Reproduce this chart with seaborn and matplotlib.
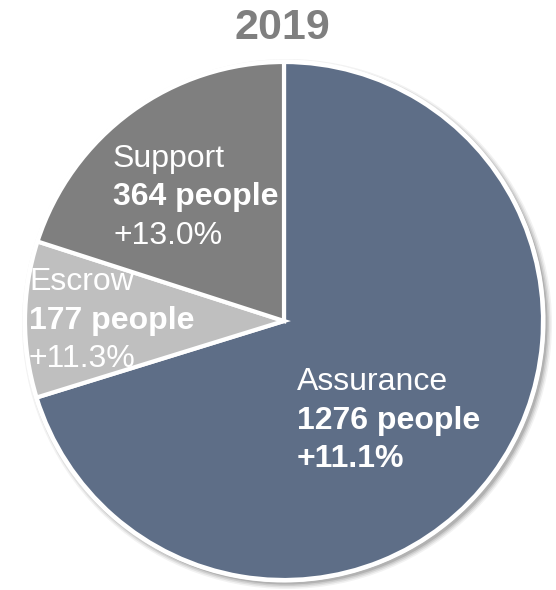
import matplotlib
matplotlib.use("Agg")
import matplotlib.pyplot as plt
from matplotlib.patches import Circle
import seaborn as sns

categories = ["Assurance", "Escrow", "Support"]
people = [1276, 177, 364]
growth = ["+11.1%", "+11.3%", "+13.0%"]
colors = ["#5E6E87", "#BFBFBF", "#7F7F7F"]
title = "2019"

sns.set_theme(style="white")
plt.rcParams['font.family'] = ['Liberation Sans', 'DejaVu Sans']

W, H = 556, 590
fig = plt.figure(figsize=(W / 100, H / 100), dpi=100)
fig.patch.set_facecolor("white")

# pie bounding box in pixels
cx, cy, r = 284, 321, 272
ax = fig.add_axes([(cx - r) / W, 1 - (cy + r) / H, 2 * r / W, 2 * r / H])
scale = 259 / 272  # pie radius relative to axes half-size

# soft shadow
for i, a in enumerate([0.05, 0.07, 0.09, 0.12]):
    off = 3 / 272
    ax.add_patch(Circle((off, -off), scale + (6 - 1.5 * i) / 272,
                        facecolor="black", edgecolor="none", alpha=a, zorder=0))
ax.add_patch(Circle((0, 0), scale + 2.5 / 272, facecolor="white", edgecolor="none", zorder=0.5))

ax.pie(people, colors=colors, startangle=90, counterclock=False, radius=scale,
       wedgeprops=dict(edgecolor="white", linewidth=3, zorder=1))
ax.set_xlim(-1, 1)
ax.set_ylim(-1, 1)
ax.set_aspect("equal")
ax.axis("off")

fig.text(282 / W, 1 - 28 / H, title, ha="center", va="center",
         fontsize=31, fontweight="bold", color="#7F7F7F")

# label layout (pixel positions of label blocks)
label_pos = {"Assurance": (297, 382), "Escrow": (29, 282), "Support": (113, 159)}
line_gap = 38.5
fs = 23
for cat, n, g in zip(categories, people, growth):
    x, y = label_pos[cat]
    fig.text(x / W, 1 - y / H, cat, ha="left", va="center", fontsize=fs, color="white")
    fig.text(x / W, 1 - (y + line_gap) / H, f"{n} people", ha="left", va="center",
             fontsize=fs, fontweight="bold", color="white")
    fig.text(x / W, 1 - (y + 2 * line_gap) / H, g, ha="left", va="center", fontsize=fs,
             fontweight="bold" if cat == "Assurance" else "normal", color="white")

fig.savefig("out.png", dpi=100, facecolor="white")
